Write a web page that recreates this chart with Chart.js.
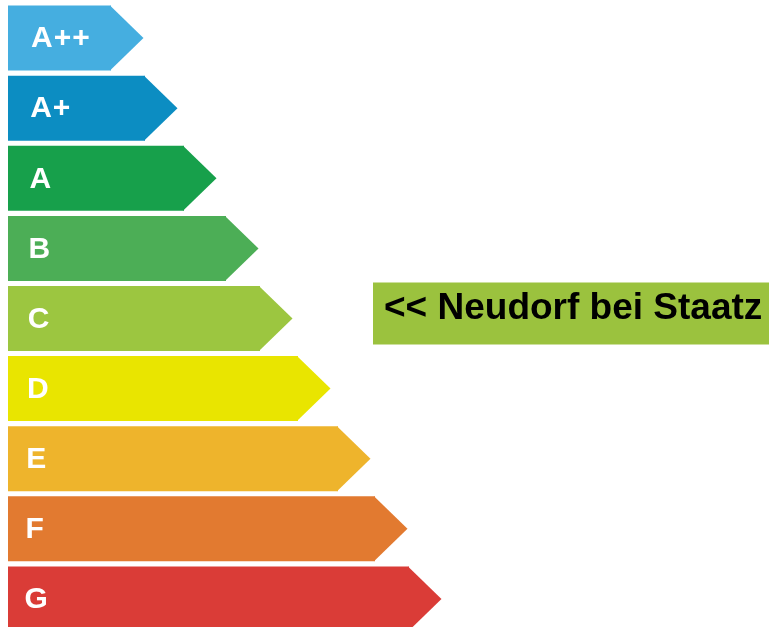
<!DOCTYPE html>
<html>
<head>
<meta charset="utf-8">
<script src="https://cdn.jsdelivr.net/npm/chart.js@4"></script>
<style>
  html, body { margin: 0; padding: 0; background: #fff; overflow: hidden; }
  #wrap { position: relative; width: 769px; height: 636px; }
</style>
</head>
<body>
<div id="wrap"><canvas id="chart"></canvas></div>
<script>
// ==================== DATOS ====================

const classes = ["A++", "A+", "A", "B", "C", "D", "E", "F", "G"];
const barLengths = [103, 137, 176, 218, 252, 290, 330, 367, 401];
const classColors = [
  "#45aee0", "#0c8dc2", "#17a04b", "#4cae56", "#9cc640",
  "#e9e500", "#eeb42c", "#e27a30", "#da3c37",
];

const markerClass = "C";
const markerLabel = "<< Neudorf bei Staatz";

// ==================== PLUGIN: flechas + textos ====================

const energyArrows = {
  id: "energyArrows",
  afterDatasetsDraw(chart) {
    const ctx = chart.ctx;
    const meta = chart.getDatasetMeta(0);
    ctx.save();
    meta.data.forEach((bar, i) => {
      const h = bar.height;
      const top = bar.y - h / 2;
      ctx.fillStyle = classColors[i];
      ctx.beginPath();
      ctx.moveTo(bar.x - 1, top);
      ctx.lineTo(bar.x + h / 2, bar.y);
      ctx.lineTo(bar.x - 1, top + h);
      ctx.closePath();
      ctx.fill();

      ctx.fillStyle = "#ffffff";
      ctx.font = "bold 30px 'Liberation Sans', Arial, sans-serif";
      ctx.letterSpacing = "1px";
      ctx.textAlign = "left";
      ctx.textBaseline = "middle";
      ctx.fillText(classes[i], 31 - i * 0.8, bar.y + 1);
    });
    ctx.letterSpacing = "0px";

    // caja de la localidad, alineada con su clase
    const yScale = chart.scales.y;
    const cy = yScale.getPixelForValue(classes.indexOf(markerClass)) - 5;
    const boxLeft = 373;
    const boxH = 62;
    ctx.fillStyle = "#9bc23e";
    ctx.fillRect(boxLeft, cy - boxH / 2, chart.width - boxLeft, boxH);
    ctx.fillStyle = "#000000";
    ctx.font = "bold 37px 'Liberation Sans', Arial, sans-serif";
    ctx.textBaseline = "alphabetic";
    ctx.fillText(markerLabel, boxLeft + 11, cy + 5);
    ctx.restore();
  },
};

// ==================== GRÁFICO ====================

new Chart(document.getElementById("chart"), {
  type: "bar",
  data: {
    labels: classes,
    datasets: [
      {
        data: barLengths,
        backgroundColor: classColors,
        borderWidth: 0,
        barPercentage: 0.927,
        categoryPercentage: 1,
      },
    ],
  },
  options: {
    indexAxis: "y",
    responsive: true,
    maintainAspectRatio: false,
    animation: false,
    layout: { padding: { left: 8, right: 0, top: 3, bottom: 2 } },
    plugins: { legend: { display: false }, tooltip: { enabled: false } },
    scales: {
      x: { display: false, min: 0, max: 761 },
      y: { display: false },
    },
  },
  plugins: [energyArrows],
});
</script>
</body>
</html>
